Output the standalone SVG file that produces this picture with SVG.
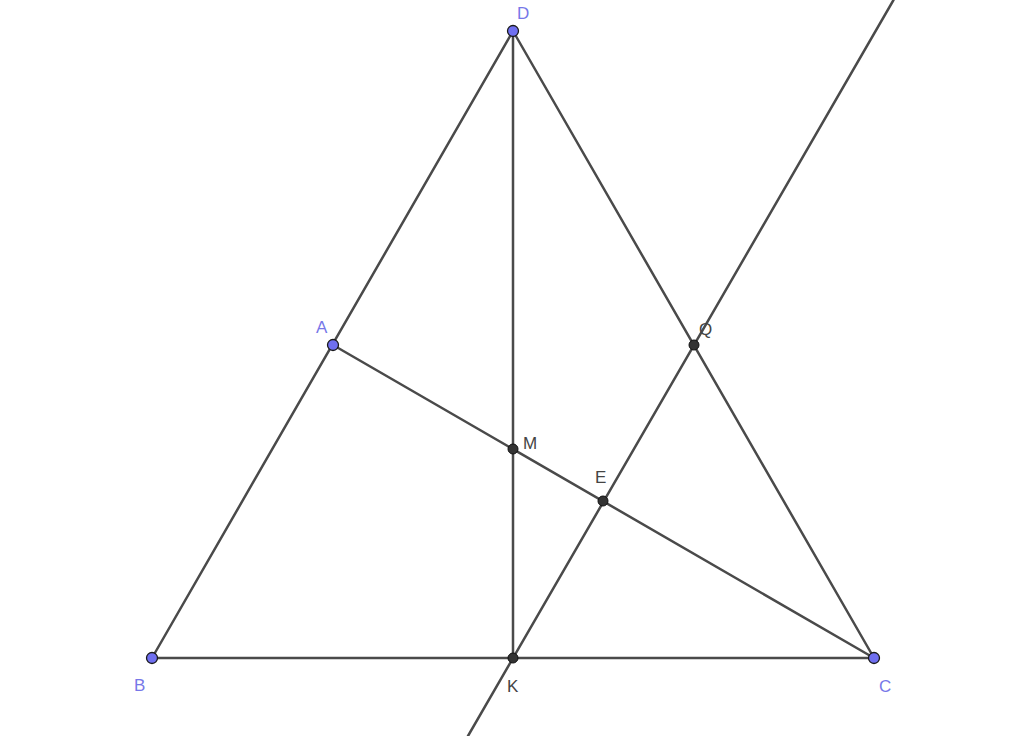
<svg xmlns="http://www.w3.org/2000/svg" width="1024" height="736" viewBox="0 0 1024 736">
<style>
.ln{stroke:#4a4a4a;stroke-width:2.5;fill:none;stroke-linecap:round}
.fp{fill:#6f6ff0;stroke:#1a1a1a;stroke-width:1.3}
.dp{fill:#333;stroke:#111;stroke-width:1}
.fl{font-family:"Liberation Sans",Arial,sans-serif;font-size:17px;fill:#7777e8}
.dl{font-family:"Liberation Sans",Arial,sans-serif;font-size:17px;fill:#444}
</style>
<rect width="1024" height="736" fill="#fff"/>
<g id="connectors">
<line class="ln" x1="152" y1="658" x2="513" y2="31"/>
<line class="ln" x1="513" y1="31" x2="874" y2="658"/>
<line class="ln" x1="152" y1="658" x2="874" y2="658"/>
<line class="ln" x1="513" y1="31" x2="513" y2="658"/>
<line class="ln" x1="333" y1="345" x2="874" y2="658"/>
<line class="ln" x1="468" y1="736" x2="893.5" y2="0"/>
</g>
<g id="D"><circle class="fp" cx="513" cy="31" r="5.5"/><text class="fl" x="517" y="19">D</text></g>
<g id="A"><circle class="fp" cx="333" cy="345" r="5.5"/><text class="fl" x="316" y="333">A</text></g>
<g id="B"><circle class="fp" cx="152" cy="658" r="5.5"/><text class="fl" x="134" y="691">B</text></g>
<g id="C"><circle class="fp" cx="874" cy="658" r="5.5"/><text class="fl" x="879" y="692">C</text></g>
<g id="M"><circle class="dp" cx="513" cy="449" r="5"/><text class="dl" x="523" y="449">M</text></g>
<g id="E"><circle class="dp" cx="603" cy="501" r="5"/><text class="dl" x="595" y="483">E</text></g>
<g id="K"><circle class="dp" cx="513" cy="658" r="5"/><text class="dl" x="507" y="692">K</text></g>
<g id="Q"><circle class="dp" cx="694" cy="345" r="5"/><text class="dl" x="699" y="335">Q</text></g>
</svg>
